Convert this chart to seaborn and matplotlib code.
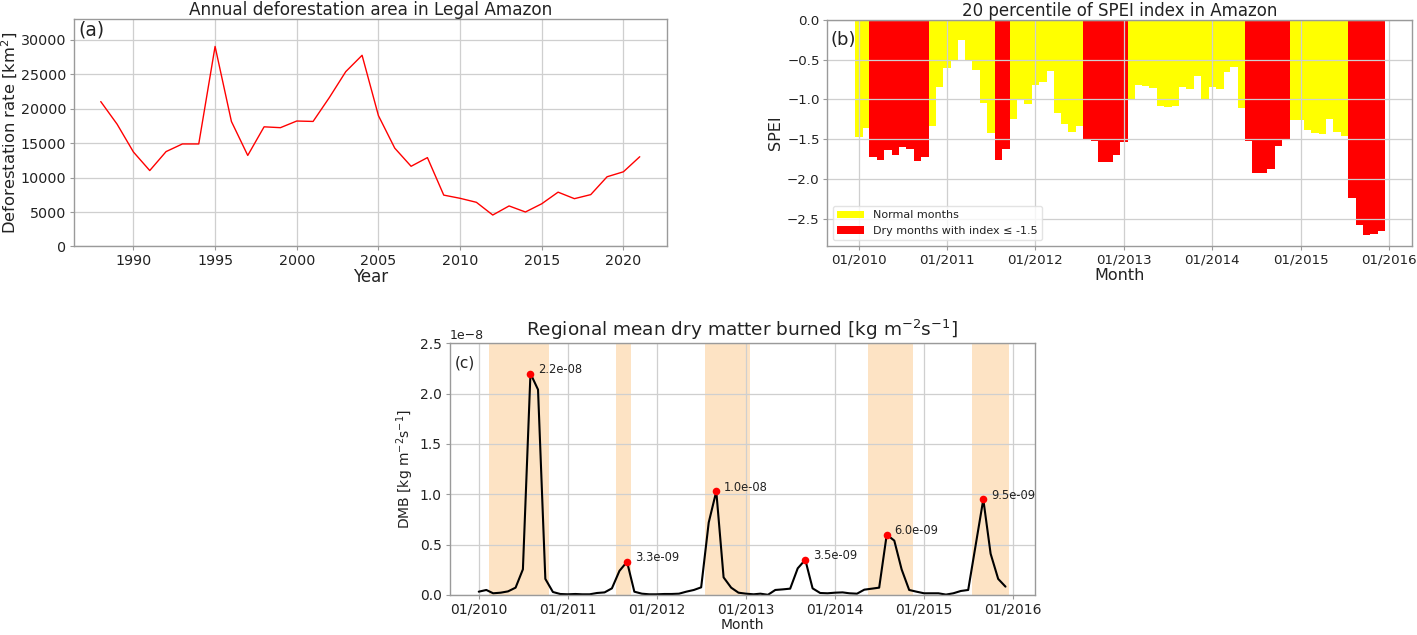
import numpy as np
import pandas as pd
import matplotlib
matplotlib.use("Agg")
import matplotlib.pyplot as plt
import matplotlib.dates as mdates
import seaborn as sns

# ---------------- data ----------------
years = list(range(1988, 2022))
deforestation = [21050, 17770, 13730, 11030, 13786, 14896, 14896, 29059, 18161, 13227,
                 17383, 17259, 18226, 18165, 21650, 25396, 27772, 19014, 14286, 11651,
                 12911, 7464, 7000, 6418, 4571, 5891, 5012, 6207, 7893, 6947,
                 7536, 10129, 10851, 13038]

months = pd.date_range("2010-01-01", periods=72, freq="MS")

spei = [-1.47, -1.36, -1.72, -1.76, -1.64, -1.70, -1.60, -1.63, -1.77, -1.72, -1.34, -0.84,
        -0.61, -0.50, -0.25, -0.50, -0.63, -1.04, -1.42, -1.76, -1.62, -1.25, -1.01, -1.06,
        -0.82, -0.78, -0.64, -1.17, -1.31, -1.41, -1.34, -1.50, -1.52, -1.79, -1.79, -1.70,
        -1.53, -0.99, -0.82, -0.83, -0.85, -1.08, -1.10, -1.08, -0.84, -0.87, -0.71, -1.00,
        -0.84, -0.87, -0.66, -0.59, -1.11, -1.52, -1.93, -1.92, -1.87, -1.59, -1.51, -1.26,
        -1.26, -1.39, -1.42, -1.44, -1.25, -1.41, -1.46, -2.24, -2.58, -2.71, -2.69, -2.66]

dmb_e8 = [0.033, 0.050, 0.017, 0.023, 0.036, 0.073, 0.255, 2.20, 2.04, 0.160, 0.030, 0.010,
          0.007, 0.010, 0.007, 0.007, 0.020, 0.026, 0.066, 0.240, 0.33, 0.033, 0.013, 0.007,
          0.007, 0.010, 0.010, 0.013, 0.033, 0.050, 0.076, 0.720, 1.03, 0.175, 0.073, 0.023,
          0.013, 0.007, 0.013, 0.002, 0.050, 0.056, 0.063, 0.265, 0.35, 0.066, 0.020, 0.017,
          0.023, 0.026, 0.017, 0.013, 0.053, 0.063, 0.073, 0.60, 0.540, 0.255, 0.050, 0.033,
          0.017, 0.017, 0.017, 0.004, 0.017, 0.040, 0.050, 0.500, 0.95, 0.410, 0.160, 0.083]

normal_label = "Normal months"
dry_label = "Dry months with index \u2264 -1.5"
dry_threshold = -1.5

# ---------------- style ----------------
sns.set_theme(style="whitegrid", rc={
    "axes.edgecolor": "#9a9a9a",
    "axes.linewidth": 1.0,
    "axes.axisbelow": "line",
    "grid.color": "#cfcfcf",
    "grid.linewidth": 0.9,
    "xtick.bottom": True,
    "ytick.left": True,
    "xtick.color": "#9a9a9a",
    "ytick.color": "#9a9a9a",
    "xtick.labelcolor": "#222222",
    "ytick.labelcolor": "#222222",
    "xtick.major.size": 3,
    "ytick.major.size": 3,
    "xtick.major.width": 0.8,
    "ytick.major.width": 0.8,
    "xtick.major.pad": 2.5,
    "ytick.major.pad": 2.5,
    "text.color": "#222222",
    "axes.labelcolor": "#222222",
})
plt.rcParams["font.family"] = ["DejaVu Sans"]

W, H = 1417, 635
fig = plt.figure(figsize=(W / 100, H / 100), dpi=100)

def frac_axes(l, t, r, b):
    return fig.add_axes([l / W, 1 - b / H, (r - l) / W, (b - t) / H])

ax_a = frac_axes(73.8, 19.3, 666.7, 246.5)
ax_b = frac_axes(827.3, 20.0, 1412.0, 246.0)
ax_c = frac_axes(449.5, 343.3, 1035.0, 595.0)

# ---------------- (a) ----------------
df_a = pd.DataFrame({"Year": years, "rate": deforestation})
sns.lineplot(data=df_a, x="Year", y="rate", color="red", linewidth=1.0, ax=ax_a)
ax_a.set_ylim(0, 33000)
ax_a.set_xlim(1986.35, 2022.65)
ax_a.set_title("Annual deforestation area in Legal Amazon", fontsize=12.2, pad=3)
ax_a.set_xlabel("Year", fontsize=12, labelpad=0)
ax_a.set_ylabel("Deforestation rate [km$^2$]", fontsize=11.8)
ax_a.yaxis.set_label_coords(-0.09, 0.5)
ax_a.tick_params(labelsize=10.3)
ax_a.text(0.007, 0.955, "(a)", transform=ax_a.transAxes, fontsize=13.5, ha="left", va="center")

# ---------------- (b) ----------------
xnum = mdates.date2num(months.to_pydatetime())
kinds = [dry_label if v <= dry_threshold else normal_label for v in spei]
df_b = pd.DataFrame({"x": xnum, "SPEI": spei, "kind": kinds})
sns.barplot(data=df_b, x="x", y="SPEI", hue="kind", hue_order=[normal_label, dry_label],
            palette={normal_label: "yellow", dry_label: "red"}, native_scale=True,
            width=31 / 28, dodge=False, saturation=1, linewidth=0, errorbar=None, ax=ax_b)
ax_b.set_ylim(-2.845, 0)
x0 = mdates.date2num(pd.Timestamp("2010-01-01"))
x1 = mdates.date2num(pd.Timestamp("2016-01-01"))
ax_b.set_xlim(x0 - 130, x1 + 95)
ax_b.xaxis.set_major_locator(mdates.YearLocator())
ax_b.xaxis.set_major_formatter(mdates.DateFormatter("%m/%Y"))
ax_b.grid(True, axis="both")
ax_b.set_title("20 percentile of SPEI index in Amazon", fontsize=12, pad=3)
ax_b.set_xlabel("Month", fontsize=11.5, labelpad=1)
ax_b.set_ylabel("SPEI", fontsize=11.5, labelpad=3)
ax_b.tick_params(labelsize=9.6)
handles, labels = ax_b.get_legend_handles_labels()
ax_b.legend(handles, labels, loc="lower left", fontsize=8, handlelength=2.4,
            frameon=True, framealpha=0.8, edgecolor="#dddddd")
ax_b.text(0.006, 0.91, "(b)", transform=ax_b.transAxes, fontsize=13, ha="left", va="center")

# ---------------- (c) ----------------
dmb = np.array(dmb_e8) * 1e-8
df_c = pd.DataFrame({"x": xnum, "DMB": dmb})
# dry-period shading from the SPEI dry months
dry = np.array([k == dry_label for k in kinds])
i = 0
while i < len(dry):
    if dry[i]:
        j = i
        while j + 1 < len(dry) and dry[j + 1]:
            j += 1
        ax_c.axvspan(xnum[i] - 15.2, xnum[j] + 15.2, color="#fde3c4", linewidth=0, zorder=1)
        i = j + 1
    else:
        i += 1
sns.lineplot(data=df_c, x="x", y="DMB", color="black", linewidth=1.5, ax=ax_c, zorder=2.5)
peak_idx = [y * 12 + int(np.argmax(dmb[y * 12:(y + 1) * 12])) for y in range(6)]
sns.scatterplot(x=xnum[peak_idx], y=dmb[peak_idx], color="red", s=30, linewidth=0,
                ax=ax_c, zorder=3)
for k in peak_idx:
    ax_c.annotate(f"{dmb[k]:.1e}", (xnum[k], dmb[k]), xytext=(5.5, 3),
                  textcoords="offset points", ha="left", va="center", fontsize=8.3)
ax_c.set_ylim(0, 2.5e-8)
ax_c.set_xlim(x0 - 120, x1 + 90)
ax_c.xaxis.set_major_locator(mdates.YearLocator())
ax_c.xaxis.set_major_formatter(mdates.DateFormatter("%m/%Y"))
ax_c.set_title("Regional mean dry matter burned [kg m$^{-2}$s$^{-1}$]", fontsize=13.3, pad=5)
ax_c.set_xlabel("Month", fontsize=10, labelpad=1)
ax_c.set_ylabel("DMB [kg m$^{-2}$s$^{-1}$]", fontsize=10, labelpad=3)
ax_c.tick_params(labelsize=10)
ax_c.yaxis.get_offset_text().set_fontsize(9)
ax_c.text(0.009, 0.92, "(c)", transform=ax_c.transAxes, fontsize=11, ha="left", va="center")

fig.savefig("out.png", dpi=100)
